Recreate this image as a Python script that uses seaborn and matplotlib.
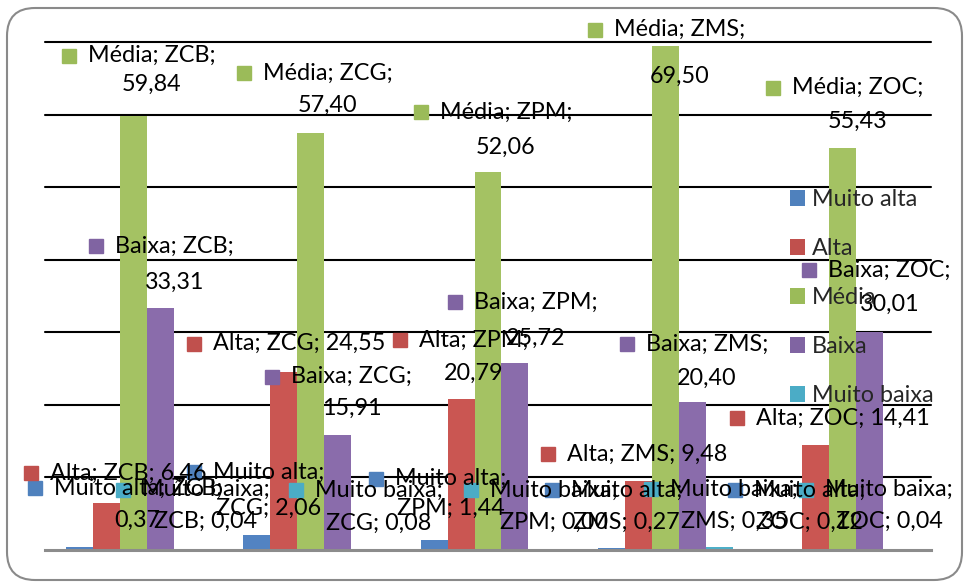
import numpy as np
import pandas as pd
import matplotlib
matplotlib.use("Agg")
import matplotlib.pyplot as plt
import seaborn as sns
from matplotlib.patches import FancyBboxPatch, Patch
from matplotlib.transforms import ScaledTranslation
from matplotlib.font_manager import FontProperties

# ---------------- data ----------------
zones = ["ZCB", "ZCG", "ZPM", "ZMS", "ZOC"]
classes = ["Muito alta", "Alta", "Média", "Baixa", "Muito baixa"]
muito_alta = [0.37, 2.06, 1.44, 0.27, 0.12]
alta = [6.46, 24.55, 20.79, 9.48, 14.41]
media = [59.84, 57.40, 52.06, 69.50, 55.43]
baixa = [33.31, 15.91, 25.72, 20.40, 30.01]
muito_baixa = [0.04, 0.08, 0.00, 0.35, 0.04]
series = [muito_alta, alta, media, baixa, muito_baixa]

# ---------------- style ----------------
bar_colors = ["#5283C2", "#CA5652", "#A4C263", "#8A6CAB", "#4DAFC8"]
key_colors = ["#4F81BD", "#C0504D", "#9BBB59", "#8064A2", "#4BACC6"]
FS = 16.8
FONT = ["Lato", "DejaVu Sans"]

# label wrapping: 0 = one line, 1 = value on 2nd line, 2 = class name alone on 1st line
wrap = {
    "Muito alta": [1, 2, 2, 2, 2],
    "Alta": [0, 0, 1, 0, 0],
    "Média": [1, 1, 1, 1, 1],
    "Baixa": [1, 1, 1, 1, 1],
    "Muito baixa": [2, 2, 2, 2, 2],
}
# label offsets in pixels from bar top centre: (dx, rise of 1st line, gap to 2nd line)
offs = {
    "Muito alta": [(58, 59, 32), (12, 63, 36), (17, 61, 30), (15, 58, 32), (21, 59, 32)],
    "Alta": [(22, 30, 0), (15, 28, 0), (13, 59, 33), (9, 27, 0), (27, 27, 0)],
    "Média": [(18, 60, 29), (17, 60, 32), (18, 60, 35), (14, 16, 47), (15, 60, 34)],
    "Baixa": [(14, 62, 36), (14, 58, 32), (21, 61, 36), (15, 58, 34), (20, 62, 34)],
    "Muito baixa": [(18, 60, 32), (14, 59, 33), (12, 60, 32), (15, 58, 32), (-7, 60, 32)],
}

rows = []
for c, vals in zip(classes, series):
    for z, v in zip(zones, vals):
        rows.append({"zone": z, "classe": c, "valor": v})
df = pd.DataFrame(rows)

sns.set_style("white")
plt.rcParams["font.family"] = FONT

W, H, DPI = 965, 583, 100
fig = plt.figure(figsize=(W / DPI, H / DPI), dpi=DPI)
ax = fig.add_axes([45 / W, 1 - 550 / H, (931 - 45) / W, (550 - 42) / H])

sns.barplot(data=df, x="zone", y="valor", hue="classe", hue_order=classes,
            order=zones, palette=bar_colors, width=0.76, saturation=1,
            errorbar=None, legend=False, ax=ax, zorder=2, linewidth=0)

ax.set_xlim(-0.5, 4.5)
ax.set_ylim(0, 70)
ax.set_yticks(np.arange(10, 71, 10))
ax.set_xticks([])
ax.tick_params(axis="both", length=0, labelleft=False, labelbottom=False)
ax.set_xlabel("")
ax.set_ylabel("")
ax.yaxis.grid(True, color="black", linewidth=1.5)
for ln in ax.get_ygridlines():
    ln.set_clip_on(False)
ax.set_axisbelow(True)
for s in ["left", "right", "top"]:
    ax.spines[s].set_visible(False)
ax.spines["bottom"].set_color("#8C8C8C")
ax.spines["bottom"].set_linewidth(2.2)

# ---------------- data labels ----------------
renderer = fig.canvas.get_renderer()
fp = FontProperties(family=FONT, size=FS)
px = 72 / DPI  # px -> points


def fmt(v):
    return f"{v:.2f}".replace(".", ",")


for ci, (c, cont) in enumerate(zip(classes, ax.containers)):
    for zi, bar in enumerate(cont.patches):
        v = series[ci][zi]
        bx = bar.get_x() + bar.get_width() / 2
        mode = wrap[c][zi]
        if mode == 0:
            lines = [f"{c}; {zones[zi]}; {fmt(v)}"]
        elif mode == 1:
            lines = [f"{c}; {zones[zi]};", fmt(v)]
        else:
            lines = [f"{c};", f"{zones[zi]}; {fmt(v)}"]
        dx, rise, gap = offs[c][zi]
        for li, t in enumerate(lines):
            ax.annotate(t, xy=(bx, v), xytext=(dx * px, (rise - li * gap) * px),
                        textcoords="offset points", ha="center", va="center",
                        fontsize=FS, color="black", zorder=5,
                        annotation_clip=False)
        w1, _, _ = renderer.get_text_width_height_descent(lines[0], fp, ismath=False)
        kx = dx - w1 / 2 - 19
        tr = ax.transData + ScaledTranslation(kx * px / 72, rise * px / 72,
                                              fig.dpi_scale_trans)
        ax.plot([bx], [v], ls="none", marker="s", ms=10.5, color=key_colors[ci],
                transform=tr, clip_on=False, zorder=4)

ax.set_xlim(-0.5, 4.5)
ax.set_ylim(0, 70)

# ---------------- legend ----------------
handles = [Patch(facecolor=k, edgecolor="none", label=c) for k, c in zip(key_colors, classes)]
leg = ax.legend(handles=handles, loc="upper left",
                bbox_to_anchor=((790 - 45) / 886, (550 - 189) / 508),
                frameon=False, fontsize=FS, handlelength=0.65, handleheight=0.65,
                handletextpad=0.3, labelspacing=1.2, borderpad=0, borderaxespad=0)
leg.set_zorder(6)

# ---------------- rounded border ----------------
border = FancyBboxPatch((7, 3), 955, 572, boxstyle="round,pad=0,rounding_size=28",
                        transform=None, facecolor="none", edgecolor="#8A8A8A",
                        linewidth=1.5, zorder=0)
fig.patches.append(border)

fig.savefig("out.png", dpi=DPI)
